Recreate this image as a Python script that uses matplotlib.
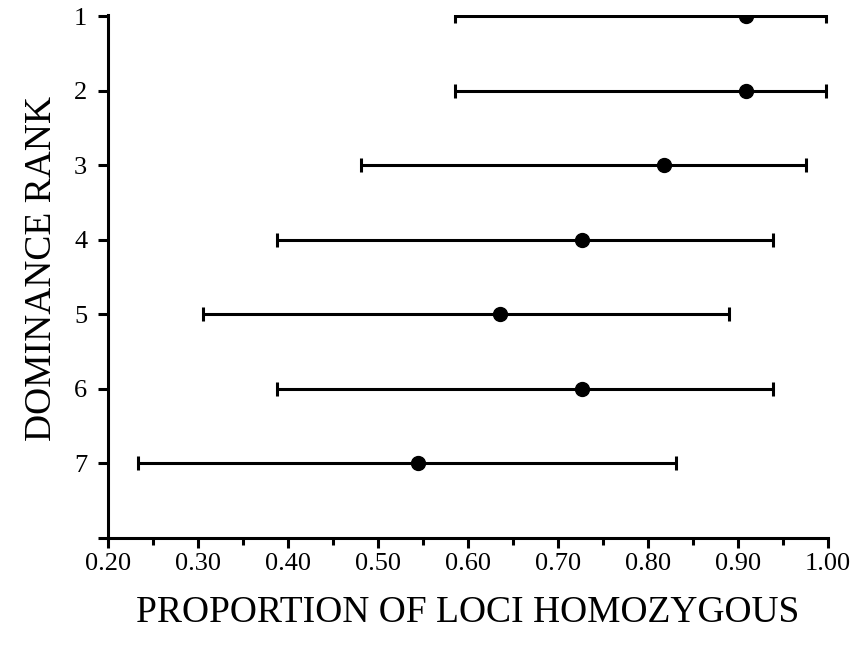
import numpy as np
import matplotlib
matplotlib.use("Agg")
import matplotlib.pyplot as plt

# dominance rank vs proportion of loci homozygous
ranks = [1, 2, 3, 4, 5, 6, 7]
means = [0.909, 0.909, 0.818, 0.727, 0.636, 0.727, 0.545]
lower = [0.586, 0.586, 0.481, 0.388, 0.306, 0.388, 0.233]
upper = [0.998, 0.998, 0.976, 0.939, 0.890, 0.939, 0.831]
xticks = [0.2, 0.3, 0.4, 0.5, 0.6, 0.7, 0.8, 0.9, 1.0]

plt.rcParams['font.family'] = ['Liberation Serif', 'DejaVu Serif']

fig = plt.figure(figsize=(8.53, 6.51), dpi=100)
ax = fig.add_axes([0.1266, 0.1736, 0.9707 - 0.1266, 0.977 - 0.1736])

m = np.array(means)
err = np.array([m - np.array(lower), np.array(upper) - m])
ax.errorbar(means, ranks, xerr=err, fmt='o', color='black', ms=10,
            elinewidth=2.2, capsize=5, capthick=2.2)

ax.set_xlim(0.2, 1.0)
ax.set_ylim(8, 0.98)
ax.set_xticks(xticks)
ax.set_xticklabels([f"{v:.2f}" for v in xticks])
ax.set_xticks(np.arange(0.25, 1.0, 0.1), minor=True)
ax.set_yticks(ranks + [8])
ax.set_yticklabels([str(r) for r in ranks] + [""])

for s in ['top', 'right']:
    ax.spines[s].set_visible(False)
for s in ['left', 'bottom']:
    ax.spines[s].set_linewidth(2.2)
ax.tick_params(axis='both', which='major', width=2.2, length=7, labelsize=19)
ax.tick_params(axis='x', which='minor', width=2.2, length=5)
ax.tick_params(axis='y', pad=8)

ax.set_xlabel("PROPORTION OF LOCI HOMOZYGOUS", fontsize=27)
ax.set_ylabel("DOMINANCE RANK", fontsize=27)
ax.xaxis.set_label_coords(0.5, -0.11)
ax.yaxis.set_label_coords(-0.068, 0.515)

fig.savefig("out.png", dpi=100)
